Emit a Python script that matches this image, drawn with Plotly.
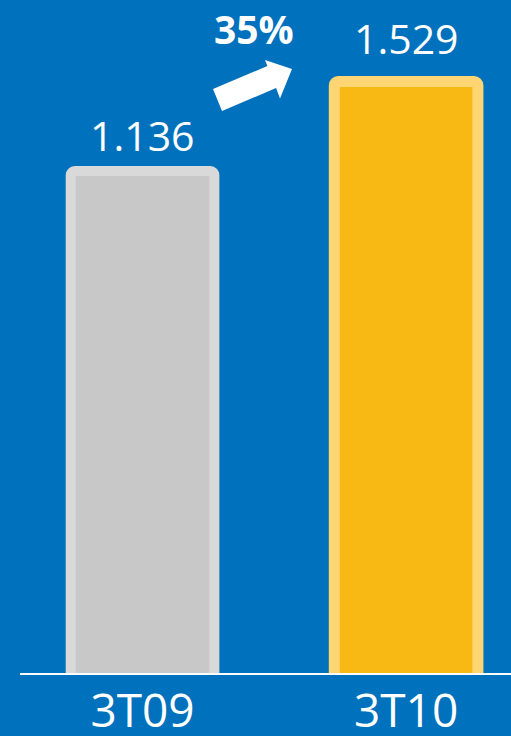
import math
import plotly.graph_objects as go

categories = ["3T09", "3T10"]
values = [1136, 1529]
value_labels = ["1.136", "1.529"]
growth_label = "35%"

fill_colors = ["#C8C8C8", "#F9B914"]
edge_colors = ["#D9D9D9", "#FDD573"]
edge_widths = [10, 11]
label_gaps = [6, 13]

BG = "#0071BC"
FONT = "Open Sans, Noto Sans, DejaVu Sans, sans-serif"
W, H = 511, 736
ML, MR, MT, MB = 20, 0, 0, 63
PW, PH = W - ML - MR, H - MT - MB

fig = go.Figure()
fig.add_trace(go.Bar(
    x=categories, y=values, width=0.545,
    marker=dict(color=fill_colors,
                line=dict(color=edge_colors, width=edge_widths),
                cornerradius=4),
    hoverinfo="skip",
))

for c, v, lab, gap in zip(categories, values, value_labels, label_gaps):
    fig.add_annotation(x=c, y=math.log10(v), text=lab, showarrow=False,
                       yanchor="bottom", yshift=gap,
                       font=dict(family=FONT, size=41, color="white"))


def px(x, y):
    return (x - ML) / PW, (MT + PH - y) / PH


arrow_pts = [(213, 89), (267.4, 66), (265, 60), (292, 69), (280, 98.5),
             (276.1, 88.1), (222, 111)]
path = "M " + " L ".join(f"{px(x, y)[0]:.5f},{px(x, y)[1]:.5f}" for x, y in arrow_pts) + " Z"
fig.add_shape(type="path", path=path, xref="paper", yref="paper",
              fillcolor="white", line=dict(width=0), layer="above")

gx, gy = px(254, 29)
fig.add_annotation(x=gx, y=gy, xref="paper", yref="paper", text=f"<b>{growth_label}</b>",
                   showarrow=False, xanchor="center", yanchor="middle",
                   font=dict(family=FONT, size=39, color="white"))

fig.update_layout(
    width=W, height=H,
    margin=dict(l=ML, r=MR, t=MT, b=MB, pad=0, autoexpand=False),
    paper_bgcolor=BG, plot_bgcolor=BG,
    showlegend=False,
    xaxis=dict(range=[-0.465, 1.398], showline=True, linecolor="white", linewidth=2,
               showgrid=False, zeroline=False, ticks="", ticklabelstandoff=-3,
               automargin=False,
               tickfont=dict(family=FONT, size=46, color="white"), fixedrange=True),
    yaxis=dict(type="log", range=[2.3316, 3.3019], visible=False, showgrid=False,
               automargin=False, fixedrange=True),
)

fig.write_html(
    "out.html",
    config={"displayModeBar": False},
    post_script="document.body.style.margin='0';document.body.style.overflow='hidden';",
)
